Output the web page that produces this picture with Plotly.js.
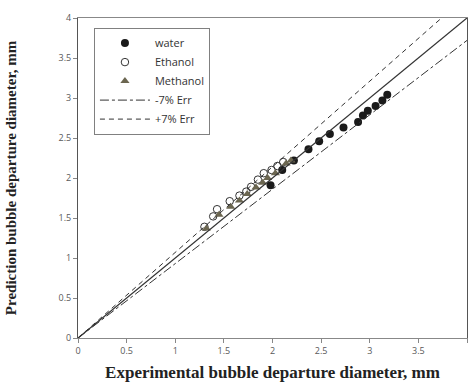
<!DOCTYPE html>
<html>
<head>
<meta charset="utf-8">
<script src="https://cdn.plot.ly/plotly-3.0.1.min.js"></script>
<style>html,body{margin:0;padding:0;background:#fff;}#chart{width:469px;height:383px;}</style>
</head>
<body>
<div id="chart"></div>
<script>
// Water (filled circles)
const waterX = [1.98, 2.10, 2.22, 2.37, 2.48, 2.59, 2.73, 2.88, 2.93, 2.98, 3.06, 3.13, 3.18];
const waterY = [1.91, 2.10, 2.22, 2.36, 2.46, 2.55, 2.63, 2.70, 2.78, 2.84, 2.90, 2.97, 3.04];
// Ethanol (open circles)
const ethanolX = [1.30, 1.39, 1.43, 1.56, 1.66, 1.73, 1.78, 1.85, 1.91, 1.99, 2.05, 2.11];
const ethanolY = [1.39, 1.52, 1.61, 1.71, 1.78, 1.83, 1.89, 1.98, 2.06, 2.10, 2.15, 2.20];
// Methanol (triangles)
const methanolX = [1.32, 1.45, 1.57, 1.66, 1.74, 1.83, 1.90, 1.95, 2.03, 2.14, 2.19];
const methanolY = [1.37, 1.54, 1.64, 1.72, 1.80, 1.88, 1.94, 2.00, 2.06, 2.18, 2.22];
// Reference lines
const lineX = [0, 4];
const perfectY = [0, 4];
const minus7Y = [0, 3.72];
const plus7Y = [0, 4.28];
const tickVals = [0, 0.5, 1, 1.5, 2, 2.5, 3, 3.5, 4];
const tickText = ['0', '0.5', '1', '1.5', '2', '2.5', '3', '3.5', '4'];

const traces = [
  {x: waterX, y: waterY, type: 'scatter', mode: 'markers', name: 'water',
   marker: {symbol: 'circle', size: 8, color: '#1a1a1a'}},
  {x: ethanolX, y: ethanolY, type: 'scatter', mode: 'markers', name: 'Ethanol',
   marker: {symbol: 'circle-open', size: 7.5, color: '#333333', line: {width: 1}}},
  {x: methanolX, y: methanolY, type: 'scatter', mode: 'markers', name: 'Methanol',
   marker: {symbol: 'triangle-up', size: 8, color: '#6b6650'}},
  {x: lineX, y: minus7Y, type: 'scatter', mode: 'lines', name: '-7% Err',
   line: {color: '#333333', width: 1, dash: 'dashdot'}},
  {x: lineX, y: plus7Y, type: 'scatter', mode: 'lines', name: '+7% Err',
   line: {color: '#333333', width: 1, dash: '5px,4px'}},
  {x: lineX, y: perfectY, type: 'scatter', mode: 'lines', name: 'y=x', showlegend: false,
   line: {color: '#333333', width: 1.3}}
];

const layout = {
  width: 469, height: 383,
  margin: {l: 78, r: 2, t: 18, b: 45},
  paper_bgcolor: '#ffffff', plot_bgcolor: '#ffffff',
  showlegend: true,
  legend: {x: 0.041, y: 0.97, xanchor: 'left', yanchor: 'top',
    bgcolor: '#ffffff', bordercolor: '#808080', borderwidth: 1,
    font: {family: 'Open Sans, Liberation Sans, sans-serif', size: 11, color: '#333333'},
    tracegroupgap: 0, itemwidth: 50},
  xaxis: {range: [0, 4], tickvals: tickVals, ticktext: tickText, showgrid: false, zeroline: false,
    showline: true, linecolor: '#888888', linewidth: 1, mirror: true,
    ticks: 'outside', ticklen: 4, tickcolor: '#888888',
    tickfont: {family: 'Open Sans, Liberation Sans, sans-serif', size: 9, color: '#595959'},
    title: {text: 'Experimental bubble departure diameter, mm', standoff: 10,
      font: {family: 'Liberation Serif, Times New Roman, serif', size: 17, color: '#222222', weight: 'bold'}}},
  yaxis: {range: [0, 4], tickvals: tickVals, ticktext: tickText, showgrid: false, zeroline: false,
    showline: true, linecolor: '#555555', linewidth: 1, mirror: true,
    ticks: 'outside', ticklen: 4, tickcolor: '#888888',
    tickfont: {family: 'Open Sans, Liberation Sans, sans-serif', size: 9, color: '#595959'},
    title: {text: 'Prediction bubble departure diameter, mm', standoff: 38,
      font: {family: 'Liberation Serif, Times New Roman, serif', size: 15, color: '#222222', weight: 'bold'}}}
};

Plotly.newPlot('chart', traces, layout, {displayModeBar: false, staticPlot: true});
</script>
</body>
</html>
